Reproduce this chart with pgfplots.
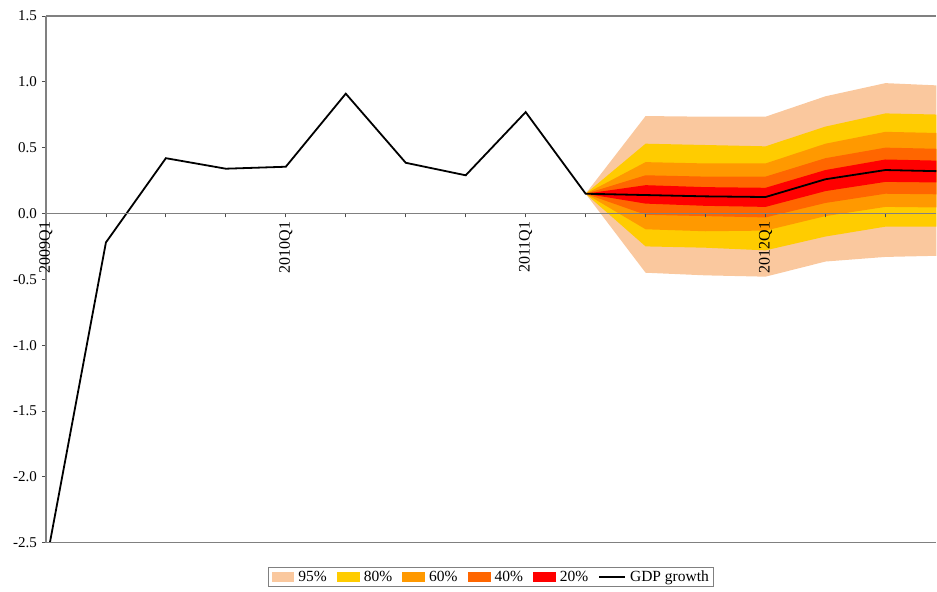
\documentclass[border=0pt]{standalone}
\usepackage{pgfplots}
\pgfplotsset{compat=1.18}
\usepackage{fontspec}
\setmainfont{Liberation Serif}
\definecolor{c95}{RGB}{250,200,158}
\definecolor{c80}{RGB}{255,204,0}
\definecolor{c60}{RGB}{255,153,0}
\definecolor{c40}{RGB}{255,102,0}
\definecolor{c20}{RGB}{255,0,0}
\definecolor{axgray}{RGB}{128,128,128}
\pgfplotsset{
  swatch/.style={legend image code/.code={\fill[##1] (0pt,-5pt) rectangle (23pt,5pt);}},
  linesw/.style={legend image code/.code={\draw[##1] (0pt,0pt) -- (26pt,0pt);}},
}
\begin{document}
\begin{tikzpicture}
\begin{axis}[
  width=891pt, height=527pt, scale only axis,
  xmin=0, xmax=14.85, ymin=-2.5, ymax=1.5,
  axis x line=middle, axis y line=left,
  axis line style={-, draw=axgray, line width=1.2pt},
  hide obscured x ticks=false, hide obscured y ticks=false,
  xtick={0,...,14},
  xticklabels={2009Q1,,,,2010Q1,,,,2011Q1,,,,2012Q1,,},
  x tick label style={rotate=90, anchor=east, font=\fontsize{16}{16}\selectfont, inner sep=4pt},
  ytick={-2.5,-2,-1.5,-1,-0.5,0,0.5,1,1.5},
  yticklabel style={font=\fontsize{15}{15}\selectfont, inner sep=5pt, /pgf/number format/.cd, fixed, fixed zerofill, precision=1, assume math mode=true},
  tick align=outside,
  major tick length=4pt,
  tick style={draw=black!70, line width=0.8pt},
  axis on top,
  legend style={at={(0.5,-0.047)}, anchor=north, legend columns=6, draw=axgray, line width=0.8pt,
    font=\fontsize{15.5}{15.5}\selectfont, inner xsep=3pt, inner ysep=1pt,
    /tikz/every odd column/.append style={column sep=2pt},
    /tikz/every even column/.append style={column sep=8pt}},
  legend cell align=left,
]
% 95% band
\addplot[fill=c95, draw=none, swatch] coordinates {
 (9,0.15) (10,0.74) (11,0.735) (12,0.735) (13,0.89) (14,0.99) (15,0.97)
 (15,-0.32) (14,-0.33) (13,-0.365) (12,-0.48) (11,-0.47) (10,-0.45) (9,0.15)} -- cycle;
\addlegendentry{95\%}
% 80% band
\addplot[fill=c80, draw=none, swatch] coordinates {
 (9,0.15) (10,0.53) (11,0.52) (12,0.51) (13,0.66) (14,0.76) (15,0.75)
 (15,-0.10) (14,-0.10) (13,-0.175) (12,-0.28) (11,-0.26) (10,-0.25) (9,0.15)} -- cycle;
\addlegendentry{80\%}
% 60% band
\addplot[fill=c60, draw=none, swatch] coordinates {
 (9,0.15) (10,0.39) (11,0.38) (12,0.38) (13,0.53) (14,0.62) (15,0.61)
 (15,0.045) (14,0.05) (13,-0.02) (12,-0.13) (11,-0.135) (10,-0.12) (9,0.15)} -- cycle;
\addlegendentry{60\%}
% 40% band
\addplot[fill=c40, draw=none, swatch] coordinates {
 (9,0.15) (10,0.29) (11,0.28) (12,0.28) (13,0.42) (14,0.50) (15,0.49)
 (15,0.145) (14,0.15) (13,0.08) (12,-0.03) (11,-0.02) (10,-0.01) (9,0.15)} -- cycle;
\addlegendentry{40\%}
% 20% band
\addplot[fill=c20, draw=none, swatch] coordinates {
 (9,0.15) (10,0.215) (11,0.20) (12,0.195) (13,0.33) (14,0.41) (15,0.40)
 (15,0.235) (14,0.24) (13,0.17) (12,0.05) (11,0.058) (10,0.075) (9,0.15)} -- cycle;
\addlegendentry{20\%}
% GDP growth
\addplot[black, line width=1.8pt, linesw] coordinates {
 (0,-2.66) (1,-0.22) (2,0.42) (3,0.34) (4,0.355) (5,0.91) (6,0.385) (7,0.29)
 (8,0.77) (9,0.15) (10,0.14) (11,0.13) (12,0.125) (13,0.26) (14,0.33) (15,0.32)};
\addlegendentry{GDP growth}
\draw[axgray, line width=1.2pt] (rel axis cs:0,1) -- (rel axis cs:1,1);
\draw[axgray, line width=1.2pt] (rel axis cs:0,0) -- (rel axis cs:1,0);
\end{axis}
\path ([xshift=-46pt,yshift=16pt]current axis.north west) rectangle ([yshift=-49pt]current axis.south east);
\end{tikzpicture}
\end{document}
